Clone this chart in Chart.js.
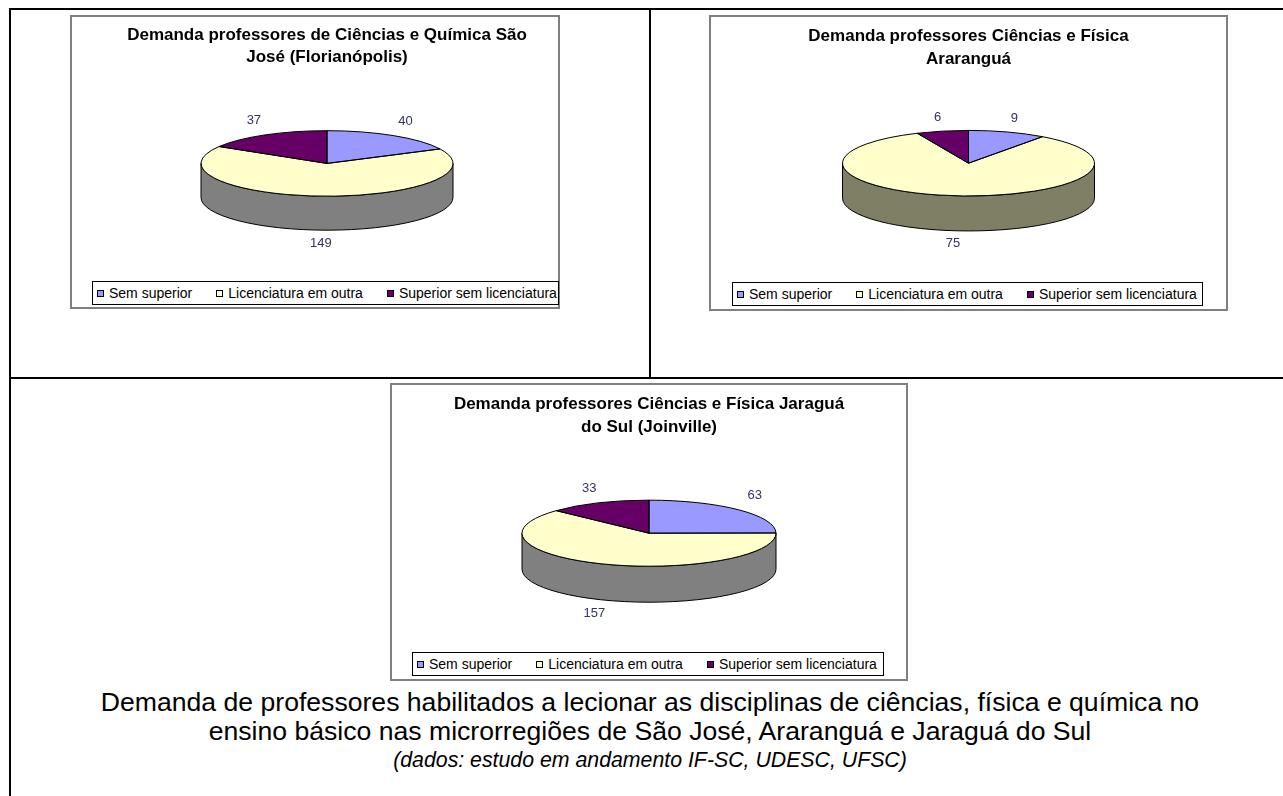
<!DOCTYPE html>
<html lang="pt-BR">
<head>
<meta charset="utf-8">
<title>Demanda de professores</title>
<script src="https://cdn.jsdelivr.net/npm/chart.js@4.4.1/dist/chart.umd.min.js"></script>
<style>
body { margin: 0; background: #fff; font-family: "Liberation Sans", Arial, sans-serif; }
#page { position: relative; width: 1283px; height: 796px; overflow: hidden; }
.rule { position: absolute; background: #000; }
.box { position: absolute; border: 2px solid #808080; box-sizing: border-box; background: #fff; }
.box .wrap { position: relative; width: 100%; height: 100%; }
.legend { position: absolute; border: 1px solid #000; box-sizing: border-box; display: flex; align-items: center;
          padding-left: 4px; font-size: 14px; color: #000; white-space: nowrap; background: #fff; }
.legend .item { display: flex; align-items: center; margin-right: 24px; }
.legend .sw { width: 5px; height: 5px; border: 1px solid #000; margin-right: 5px; }
.caption { position: absolute; left: 0; width: 1300px; text-align: center; color: #000; }
</style>
</head>
<body>
<div id="page">
  <div class="rule" style="left:9px;top:8px;width:2px;height:788px"></div>
  <div class="rule" style="left:9px;top:8px;width:1274px;height:2px"></div>
  <div class="rule" style="left:649px;top:8px;width:2px;height:370px"></div>
  <div class="rule" style="left:9px;top:377px;width:1274px;height:2px"></div>

  <div class="box" style="left:70px;top:15px;width:490px;height:294px"><div class="wrap"><canvas id="c1"></canvas></div></div>
  <div class="box" style="left:709px;top:15px;width:519px;height:296px"><div class="wrap"><canvas id="c2"></canvas></div></div>
  <div class="box" style="left:390px;top:383px;width:518px;height:298px"><div class="wrap"><canvas id="c3"></canvas></div></div>

  <div class="legend" id="l1" style="left:92px;top:281px;width:467px;height:24px"></div>
  <div class="legend" id="l2" style="left:732px;top:282px;width:471px;height:24px"></div>
  <div class="legend" id="l3" style="left:412px;top:652px;width:472px;height:24px"></div>

  <div class="caption" style="top:688px;font-size:26.6px;line-height:29px">Demanda de professores habilitados a lecionar as disciplinas de ciências, física e química no</div>
  <div class="caption" style="top:717px;font-size:26.6px;line-height:29px">ensino básico nas microrregiões de São José, Araranguá e Jaraguá do Sul</div>
  <div class="caption" style="top:746px;font-size:21.3px;line-height:28px;font-style:italic">(dados: estudo em andamento IF-SC, UDESC, UFSC)</div>
</div>
<script>
// Data
const categories = ['Sem superior', 'Licenciatura em outra', 'Superior sem licenciatura'];
const saoJose = [40, 149, 37];
const ararangua = [9, 75, 6];
const jaragua = [63, 157, 33];
const titleSaoJose = ['Demanda professores de Ciências e Química São', 'José (Florianópolis)'];
const titleArarangua = ['Demanda professores Ciências e Física', 'Araranguá'];
const titleJaragua = ['Demanda professores Ciências e Física Jaraguá', 'do Sul (Joinville)'];
const sliceColors = ['#9999ff', '#ffffcc', '#660066'];

Chart.defaults.font.family = '"Liberation Sans", Arial, sans-serif';

// flattens the pie into an ellipse and adds the side wall + value labels
const pie3d = {
    id: 'pie3d',
    beforeDatasetsDraw(chart, args, opts) {
        const ctx = chart.ctx;
        const arcs = chart.getDatasetMeta(0).data;
        const { x, y, outerRadius: r } = arcs[0];
        const ry = r * opts.tilt;
        const top = y - opts.depth / 2;
        ctx.save();
        ctx.lineWidth = 1;
        ctx.strokeStyle = '#000';
        arcs.forEach((arc, i) => {
            for (let k = -1; k <= 1; k++) {
                const lo = Math.max(arc.startAngle, 2 * Math.PI * k);
                const hi = Math.min(arc.endAngle, 2 * Math.PI * k + Math.PI);
                if (hi <= lo) continue;
                ctx.beginPath();
                ctx.ellipse(x, top, r, ry, 0, lo, hi);
                ctx.ellipse(x, top + opts.depth, r, ry, 0, hi, lo, true);
                ctx.closePath();
                ctx.fillStyle = opts.sideColors[i];
                ctx.fill();
                ctx.stroke();
            }
        });
        ctx.restore();
        ctx.save();
        ctx.translate(x, top);
        ctx.scale(1, opts.tilt);
        ctx.translate(-x, -y);
    },
    afterDatasetsDraw(chart, args, opts) {
        const ctx = chart.ctx;
        ctx.restore();
        const arcs = chart.getDatasetMeta(0).data;
        const { x, y, outerRadius: r } = arcs[0];
        const ry = r * opts.tilt;
        const top = y - opts.depth / 2;
        ctx.save();
        ctx.lineWidth = 1;
        ctx.strokeStyle = '#000';
        arcs.forEach(arc => {
            ctx.beginPath();
            ctx.moveTo(x, top);
            ctx.ellipse(x, top, r, ry, 0, arc.startAngle, arc.endAngle);
            ctx.closePath();
            ctx.stroke();
        });
        const values = chart.data.datasets[0].data;
        ctx.font = '13px "Liberation Sans", Arial, sans-serif';
        ctx.fillStyle = '#333366';
        ctx.textAlign = 'center';
        ctx.textBaseline = 'middle';
        arcs.forEach((arc, i) => {
            const mid = (arc.startAngle + arc.endAngle) / 2;
            const s = Math.sin(mid);
            const lx = x + r * 1.18 * Math.cos(mid);
            const ly = top + ry * s + (s > 0 ? opts.depth + 13 : -14);
            ctx.fillText(values[i], lx, ly);
        });
        ctx.restore();
    }
};

function makeLegend(id) {
    const el = document.getElementById(id);
    categories.forEach((c, i) => {
        const item = document.createElement('span');
        item.className = 'item';
        item.innerHTML = `<span class="sw" style="background:${sliceColors[i]}"></span>${c}`;
        el.appendChild(item);
    });
}

function makePie(canvasId, title, values, cfg) {
    return new Chart(document.getElementById(canvasId), {
        type: 'pie',
        data: {
            labels: categories,
            datasets: [{
                data: values,
                backgroundColor: sliceColors,
                borderWidth: 0,
                radius: cfg.radius
            }]
        },
        plugins: [pie3d],
        options: {
            responsive: true,
            maintainAspectRatio: false,
            animation: false,
            events: [],
            layout: { padding: cfg.padding },
            plugins: {
                legend: { display: false },
                tooltip: { enabled: false },
                title: {
                    display: true,
                    text: title,
                    color: '#000',
                    font: { size: 17, weight: 'bold', lineHeight: 1.32 },
                    padding: { top: cfg.titleTop, bottom: 0 }
                },
                pie3d: { tilt: 0.26, depth: cfg.depth, sideColors: cfg.sideColors }
            }
        }
    });
}

makePie('c1', titleSaoJose, saoJose, {
    radius: 126, depth: 34, titleTop: 7, padding: { left: 24, bottom: 15 },
    sideColors: ['#4c4c80', '#808080', '#330033']
});
makePie('c2', titleArarangua, ararangua, {
    radius: 126, depth: 35, titleTop: 8.5, padding: { bottom: 18 },
    sideColors: ['#4c4c80', '#7f7f66', '#330033']
});
makePie('c3', titleJaragua, jaragua, {
    radius: 127, depth: 36, titleTop: 8.5, padding: { bottom: 15 },
    sideColors: ['#4c4c80', '#808080', '#330033']
});

makeLegend('l1');
makeLegend('l2');
makeLegend('l3');
</script>
</body>
</html>
